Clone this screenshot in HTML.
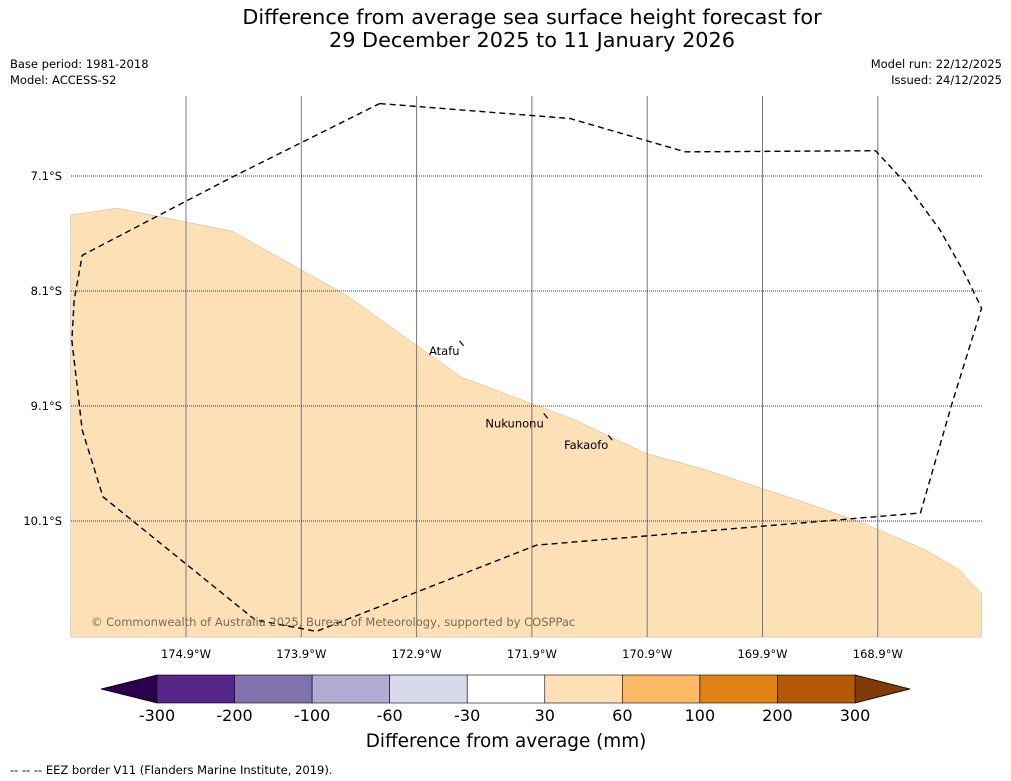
<!DOCTYPE html>
<html><head><meta charset="utf-8">
<style>
html,body{margin:0;padding:0;background:#fff;width:1011px;height:781px;overflow:hidden;font-family:"Liberation Sans","DejaVu Sans",sans-serif;}
svg text{font-family:"DejaVu Sans","Liberation Sans",sans-serif;}
</style></head>
<body>
<svg id="chart" width="1011" height="781" xmlns="http://www.w3.org/2000/svg">
<text x="532" y="24" font-size="20.8" text-anchor="middle">Difference from average sea surface height forecast for</text>
<text x="532" y="47" font-size="20.8" text-anchor="middle">29 December 2025 to 11 January 2026</text>
<text x="10" y="68" font-size="11.5">Base period: 1981-2018</text>
<text x="10" y="84" font-size="11.5">Model: ACCESS-S2</text>
<text x="1002" y="68" font-size="11.5" text-anchor="end">Model run: 22/12/2025</text>
<text x="1002" y="84" font-size="11.5" text-anchor="end">Issued: 24/12/2025</text>
<g id="map"></g>
<g id="cbar"></g>
<text x="506" y="747" font-size="18.4" text-anchor="middle">Difference from average (mm)</text>
<text x="10" y="774" font-size="11.5">--  --  -- EEZ border V11 (Flanders Marine Institute, 2019).</text>
</svg>
<script>
const lonTicks=[-174.9,-173.9,-172.9,-171.9,-170.9,-169.9,-168.9];
const latTicks=[-7.1,-8.1,-9.1,-10.1];
const anomalyLon=[-175.90,-175.50,-174.50,-173.52,-172.51,-171.53,-170.92,-170.44,-169.53,-169.05,-168.49,-168.20,-168.00,-168.00,-175.90];
const anomalyLat=[-7.44,-7.38,-7.58,-8.13,-8.85,-9.22,-9.51,-9.64,-9.94,-10.11,-10.35,-10.52,-10.73,-11.11,-11.11];
const eezLon=[-173.22,-171.57,-170.57,-168.92,-168.66,-168.36,-168.14,-168.00,-168.26,-168.53,-171.86,-173.77,-174.30,-175.62,-175.80,-175.89,-175.87,-175.80,-174.50,-173.22];
const eezLat=[-6.47,-6.60,-6.89,-6.88,-7.16,-7.57,-7.96,-8.25,-9.09,-10.03,-10.31,-11.06,-10.96,-9.89,-9.31,-8.53,-8.18,-7.79,-7.11,-6.47];
const islandNames=["Atafu","Nukunonu","Fakaofo"];
const islandLon=[-172.51,-171.78,-171.22];
const islandLat=[-8.56,-9.19,-9.38];
const cbarLabels=["-300","-200","-100","-60","-30","30","60","100","200","300"];
const cbarColors=["#542788","#8073ac","#b2abd2","#d8daeb","#ffffff","#fee0b6","#fdb863","#e08214","#b35806"];
const cbarExtend=["#2d004b","#7f3b08"];

const NS="http://www.w3.org/2000/svg";
const X0=71,X1=982,Y0=96,Y1=637;
function xs(lon){return 186+(lon+174.9)*115.3;}
function ys(lat){return 176+(-7.1-lat)*115;}
function mk(p,tag,attrs){const e=document.createElementNS(NS,tag);for(const k in attrs)e.setAttribute(k,attrs[k]);p.appendChild(e);return e;}
const map=document.getElementById('map');
const poly=mk(map,'polygon',{points:anomalyLon.map((l,i)=>xs(l)+','+ys(anomalyLat[i])).join(' '),fill:'#fee0b6',stroke:'#c8b49a','stroke-width':0.5});


lonTicks.forEach(l=>{
 const ln=mk(map,'line',{x1:xs(l),x2:xs(l),y1:Y0,y2:Y1,stroke:'#777','stroke-width':1});
 
 
 const t=mk(map,'text',{x:xs(l),y:658,'font-size':11.5,'text-anchor':'middle'});
 t.textContent=Math.abs(l).toFixed(1)+'°W';
 
 
});
latTicks.forEach(l=>{
 const ln=mk(map,'line',{x1:X0,x2:X1,y1:ys(l),y2:ys(l),stroke:'#000','stroke-width':0.8,'stroke-dasharray':'1,1'});
 
 
 const t=mk(map,'text',{x:62,y:ys(l)+4,'font-size':11.5,'text-anchor':'end'});
 t.textContent=Math.abs(l).toFixed(1)+'°S';
 
 
});
const eez=mk(map,'polyline',{points:eezLon.map((l,i)=>xs(l)+','+ys(eezLat[i])).join(' '),fill:'none',stroke:'#000','stroke-width':1.4,'stroke-dasharray':'6,4'});


islandNames.forEach((n,i)=>{
 const x=xs(islandLon[i]),y=ys(islandLat[i]);
 const m=mk(map,'path',{d:`M${x-2},${y-3} L${x+2},${y+2}`,stroke:'#000','stroke-width':1.2,fill:'none'});
 
 
 const t=mk(map,'text',{x:x-2,y:y+11,'font-size':11.5,'text-anchor':'end'});
 t.textContent=n;
 
 
});
const cp=mk(map,'text',{x:91,y:626,'font-size':11.5,fill:'#7a6a58'});
cp.textContent='© Commonwealth of Australia 2025, Bureau of Meteorology, supported by COSPPac';



const cb=document.getElementById('cbar');
const cx0=157,cx1=855,cy0=675,cy1=703,segW=(cx1-cx0)/cbarColors.length;
const lt=mk(cb,'polygon',{points:`101,689 ${cx0},${cy0} ${cx0},${cy1}`,fill:cbarExtend[0],stroke:'#000','stroke-width':0.8});


const rt=mk(cb,'polygon',{points:`910,689 ${cx1},${cy0} ${cx1},${cy1}`,fill:cbarExtend[1],stroke:'#000','stroke-width':0.8});


cbarColors.forEach((c,i)=>{
 const r=mk(cb,'rect',{x:cx0+i*segW,y:cy0,width:segW,height:cy1-cy0,fill:c,stroke:'#000','stroke-width':0.6});
 
 
});
cbarLabels.forEach((s,i)=>{
 const t=mk(cb,'text',{x:cx0+i*segW,y:721,'font-size':16,'text-anchor':'middle'});
 t.textContent=s;
 
 
});
</script>
</body></html>
